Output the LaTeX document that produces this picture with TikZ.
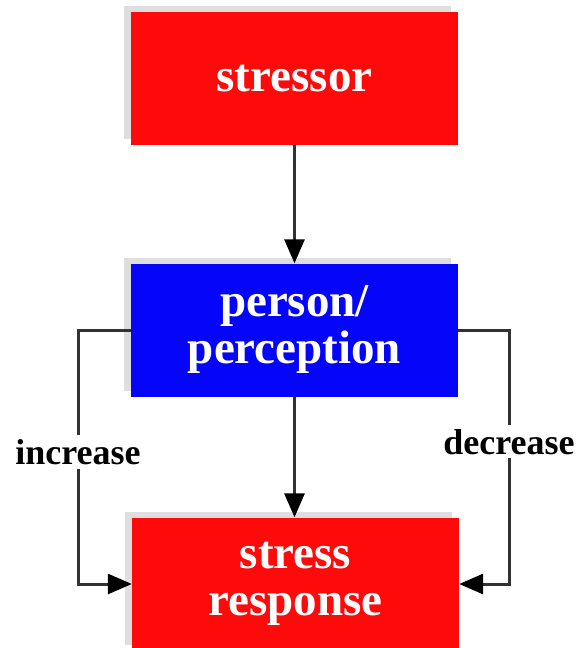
\documentclass[tikz,border=0pt]{standalone}
\usepackage{fontspec}
\setmainfont{Liberation Serif}
\usetikzlibrary{shadows,arrows.meta}
\definecolor{boxred}{RGB}{255,10,10}
\definecolor{boxblue}{RGB}{5,5,250}
\definecolor{shade}{RGB}{222,222,222}
\definecolor{linegray}{RGB}{50,50,50}
\begin{document}
\begin{tikzpicture}[x=1pt,y=-1pt,
  box/.style={draw=none, minimum width=327pt, minimum height=133pt, inner sep=0pt,
    font=\bfseries\fontsize{47}{47}\selectfont, text=white, align=center,
    general shadow={fill=shade, shadow xshift=-7pt, shadow yshift=6pt}},
  conn/.style={draw=linegray, line width=3pt, -{Triangle[length=24pt,width=20pt,color=black]}},
  lbl/.style={fill=white, inner sep=4pt, font=\bfseries\fontsize{36}{36}\selectfont, text=black}]
\useasboundingbox (0,0) rectangle (582,648);
\node[box, fill=boxred] (stressor) at (294.5,78) {stressor};
\node[box, fill=boxblue] (person) at (294.5,330) {person/\\perception};
\node[box, fill=boxred] (resp) at (295.5,584) {stress\\response};
\coordinate (lc) at (78,0);
\coordinate (rc) at (509,0);
\draw[conn] (stressor.south) -- (person.north);
\draw[conn] (person.south) -- (person.south |- resp.north);
\draw[conn] (person.west) -- (person.west -| lc) |- (resp.west)
  node[lbl, pos=0.24] (inc) {increase};
\draw[conn] (person.east) -- (person.east -| rc) |- (resp.east)
  node[lbl, pos=0.22] (dec) {decrease};
\end{tikzpicture}
\end{document}
